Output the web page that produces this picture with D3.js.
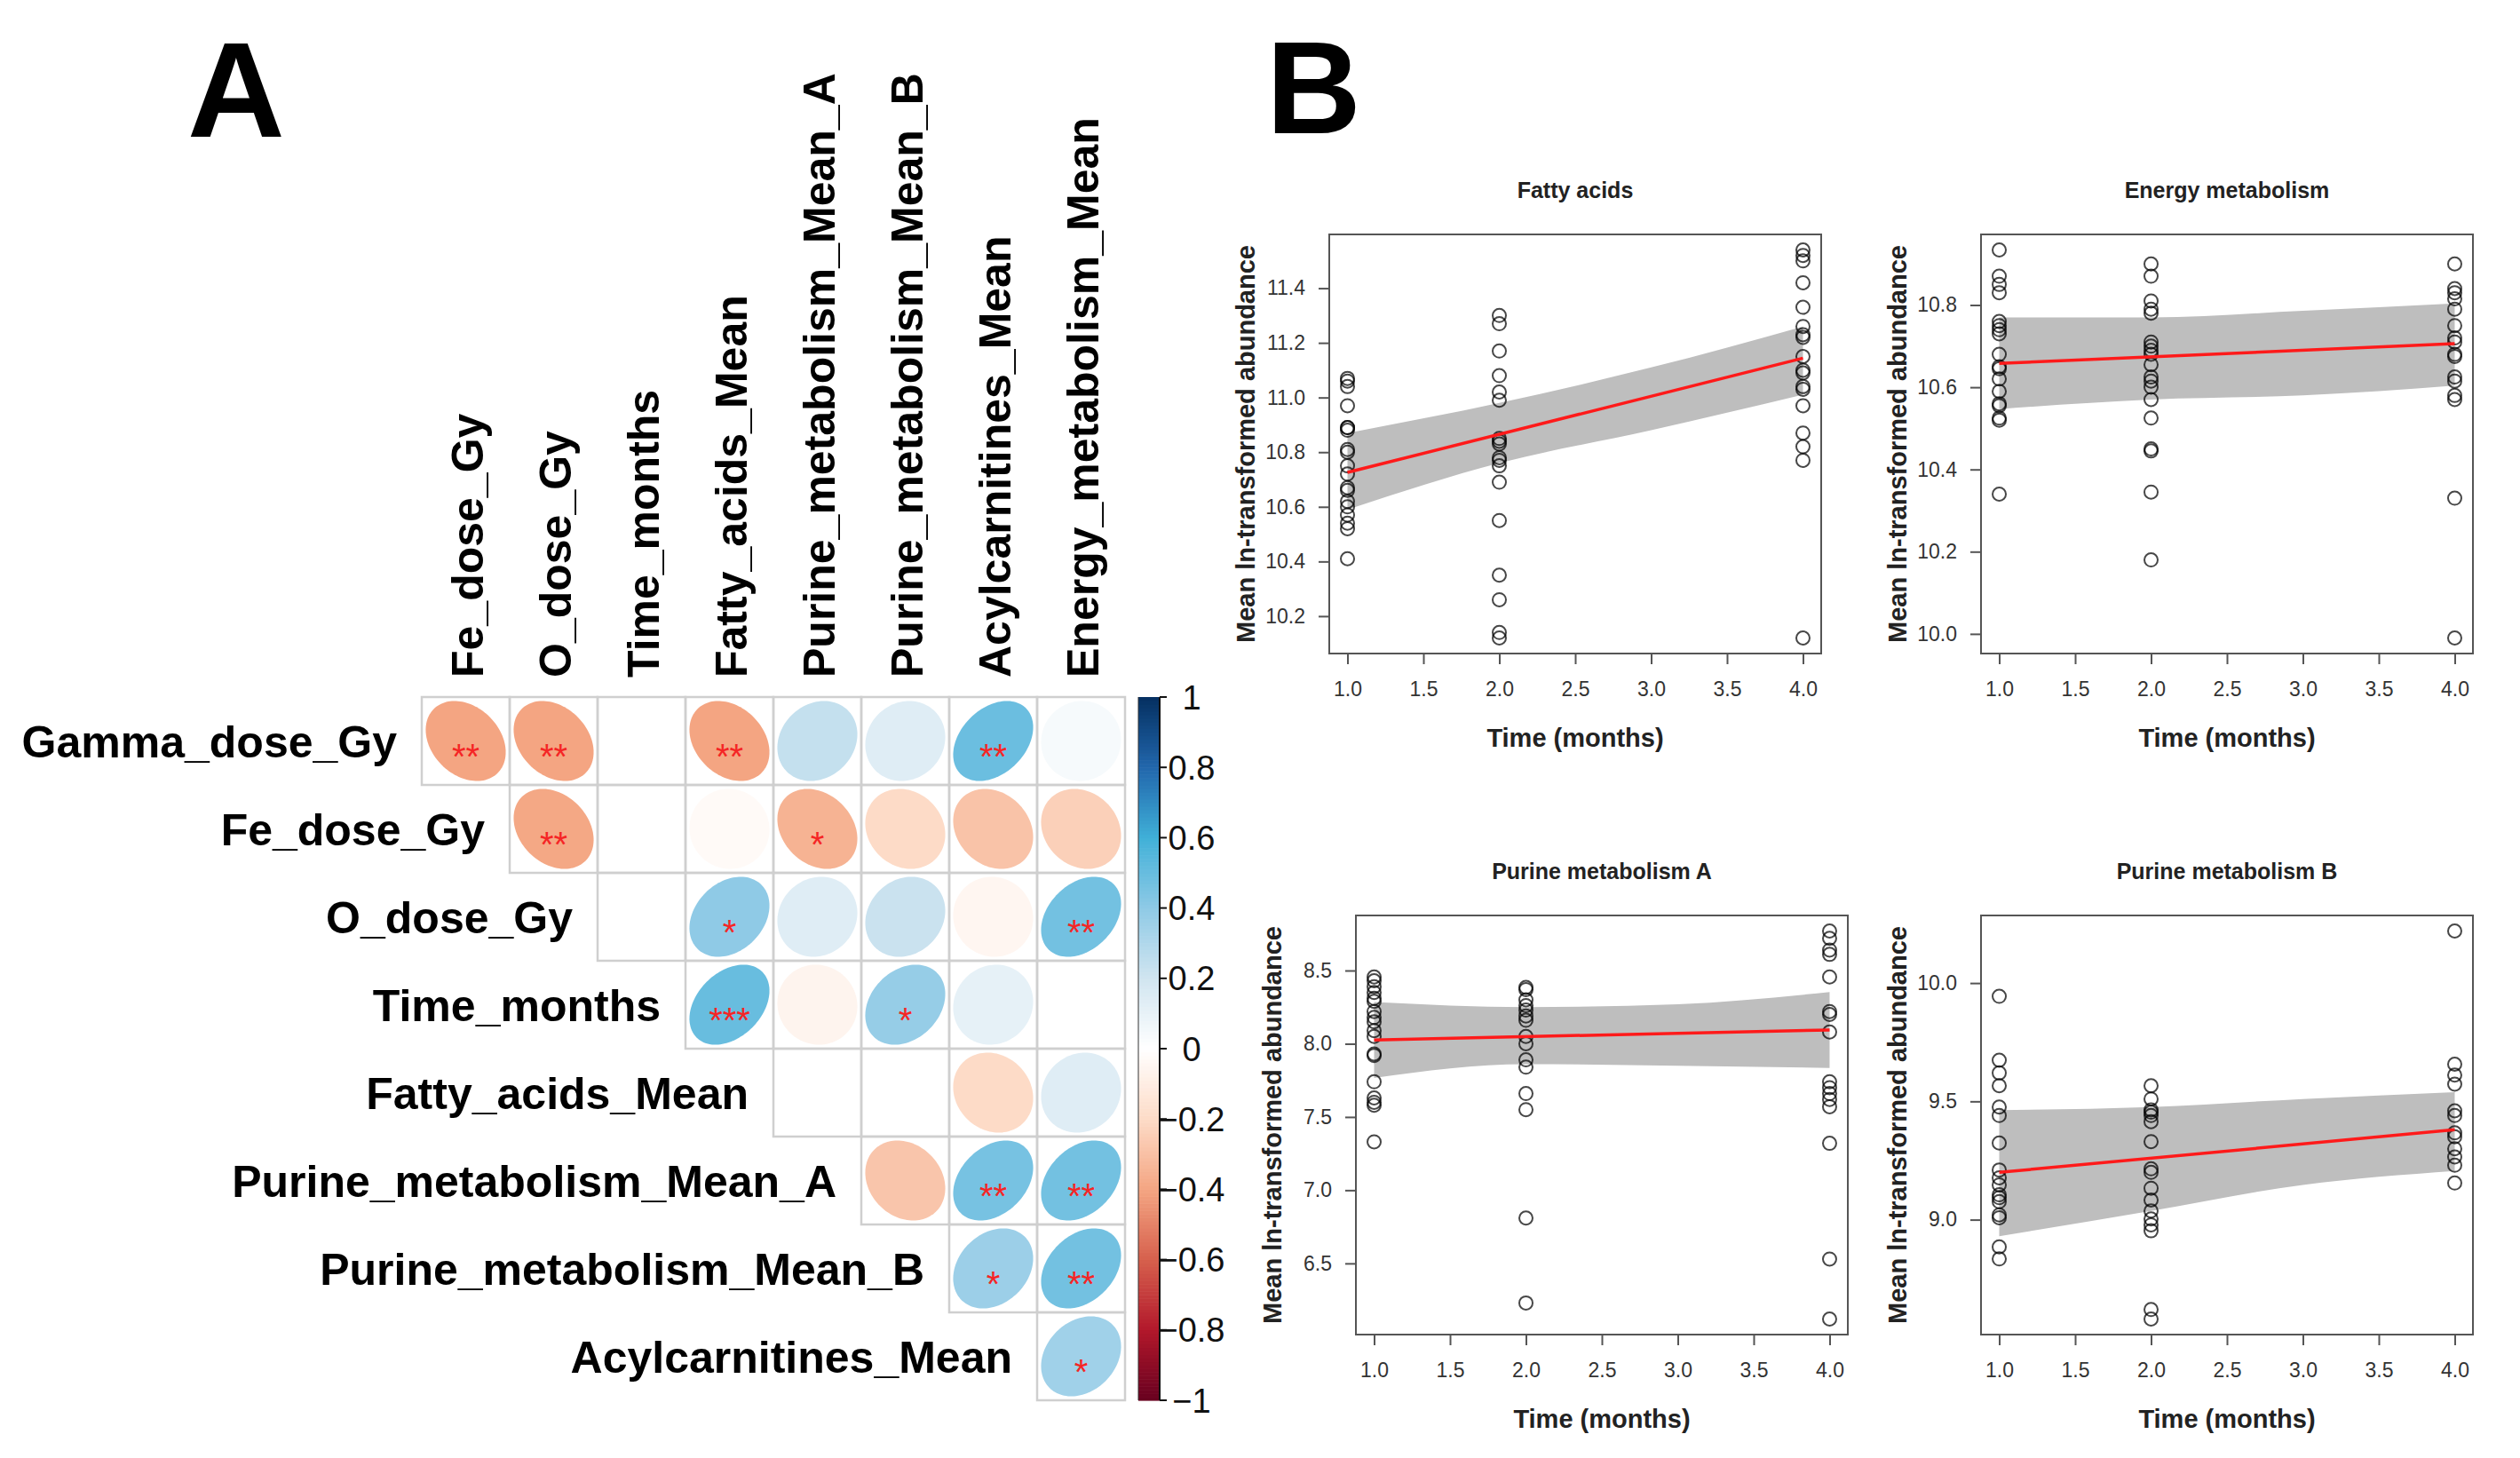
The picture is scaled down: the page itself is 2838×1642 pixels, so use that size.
<!DOCTYPE html>
<html>
<head>
<meta charset="utf-8">
<script src="https://cdn.jsdelivr.net/npm/d3@7"></script>
<style>
  body { margin: 0; background: #fff; }
  text { font-family: "Liberation Sans", Arial, sans-serif; }
</style>
</head>
<body>
<svg id="chart" width="2838" height="1642"></svg>
<script>
// ---- panel A: correlation matrix ----
const rowVars = ["Gamma_dose_Gy", "Fe_dose_Gy", "O_dose_Gy", "Time_months", "Fatty_acids_Mean",
    "Purine_metabolism_Mean_A", "Purine_metabolism_Mean_B", "Acylcarnitines_Mean"];
const colVars = ["Fe_dose_Gy", "O_dose_Gy", "Time_months", "Fatty_acids_Mean", "Purine_metabolism_Mean_A",
    "Purine_metabolism_Mean_B", "Acylcarnitines_Mean", "Energy_metabolism_Mean"];

// upper triangle, row i holds columns i..7
const corrValues = [
    [-0.40, -0.40, 0, -0.40, 0.24, 0.14, 0.49, 0.04],
    [-0.39, 0, -0.03, -0.35, -0.20, -0.29, -0.24],
    [0, 0.40, 0.14, 0.22, -0.05, 0.47],
    [0.50, -0.06, 0.38, 0.11, 0],
    [0, 0, -0.20, 0.14],
    [-0.28, 0.46, 0.47],
    [0.36, 0.47],
    [0.35]
];
const corrStars = [
    ["**", "**", "", "**", "", "", "**", ""],
    ["**", "", "", "*", "", "", ""],
    ["", "*", "", "", "", "**"],
    ["***", "", "*", "", ""],
    ["", "", "", ""],
    ["", "**", "**"],
    ["*", "**"],
    ["*"]
];
const legendTicks = [-1, -0.8, -0.6, -0.4, -0.2, 0, 0.2, 0.4, 0.6, 0.8, 1];
const paletteStops = ["#67001F", "#B2182B", "#D6604D", "#F4A582", "#FDDBC7", "#FFFFFF",
    "#D1E5F0", "#8FCAE6", "#40B0D8", "#2166AC", "#053061"];

// ---- panel B: scatter data (Time in months: 1, 2, 4) ----
const timeMonths = [1, 2, 4];
const xTicks = [1, 1.5, 2, 2.5, 3, 3.5, 4];
const bandX = [1, 2, 3, 4];

const fattyT1 = [11.07, 11.06, 11.04, 10.97, 10.89, 10.89, 10.88, 10.81, 10.80, 10.75, 10.72, 10.67, 10.66, 10.62, 10.60, 10.57, 10.54, 10.52, 10.41];
const fattyT2 = [11.30, 11.27, 11.17, 11.08, 11.02, 10.99, 10.85, 10.84, 10.83, 10.78, 10.77, 10.75, 10.69, 10.55, 10.35, 10.26, 10.14, 10.12];
const fattyT4 = [11.54, 11.52, 11.50, 11.42, 11.33, 11.26, 11.23, 11.22, 11.15, 11.10, 11.09, 11.04, 11.03, 10.97, 10.87, 10.82, 10.77, 10.12];
const fattyFit = [10.726, 11.144];
const fattyHi = [10.87, 10.98, 11.11, 11.26];
const fattyLo = [10.59, 10.76, 10.88, 11.01];
const fattyTicks = [10.2, 10.4, 10.6, 10.8, 11.0, 11.2, 11.4];

const energyT1 = [10.934, 10.87, 10.85, 10.83, 10.76, 10.75, 10.74, 10.73, 10.68, 10.65, 10.645, 10.62, 10.59, 10.56, 10.555, 10.525, 10.52, 10.34];
const energyT2 = [10.90, 10.87, 10.81, 10.79, 10.78, 10.71, 10.70, 10.69, 10.68, 10.655, 10.625, 10.615, 10.60, 10.57, 10.525, 10.45, 10.445, 10.345, 10.18];
const energyT4 = [10.90, 10.84, 10.83, 10.815, 10.79, 10.75, 10.72, 10.71, 10.68, 10.675, 10.625, 10.615, 10.58, 10.57, 10.33, 9.99];
const energyFit = [10.658, 10.706];
const energyHi = [10.77, 10.77, 10.786, 10.804];
const energyLo = [10.547, 10.57, 10.58, 10.604];
const energyTicks = [10.0, 10.2, 10.4, 10.6, 10.8];

const purineAT1 = [8.456, 8.43, 8.39, 8.35, 8.31, 8.29, 8.22, 8.18, 8.15, 8.09, 8.05, 7.93, 7.92, 7.74, 7.63, 7.60, 7.58, 7.33];
const purineAT2 = [8.385, 8.37, 8.30, 8.26, 8.23, 8.19, 8.16, 8.05, 8.00, 7.89, 7.84, 7.66, 7.55, 6.81, 6.23];
const purineAT4 = [8.77, 8.72, 8.64, 8.61, 8.456, 8.22, 8.20, 8.08, 7.74, 7.70, 7.66, 7.62, 7.57, 7.32, 6.53, 6.12];
const purineAFit = [8.026, 8.094];
const purineAHi = [8.285, 8.25, 8.27, 8.353];
const purineALo = [7.767, 7.86, 7.85, 7.835];
const purineATicks = [6.5, 7.0, 7.5, 8.0, 8.5];

const purineBT1 = [9.944, 9.674, 9.62, 9.566, 9.476, 9.44, 9.324, 9.21, 9.177, 9.147, 9.105, 9.093, 9.076, 9.02, 9.008, 8.885, 8.834];
const purineBT2 = [9.566, 9.51, 9.464, 9.454, 9.44, 9.414, 9.33, 9.215, 9.20, 9.133, 9.083, 9.037, 9.003, 8.978, 8.953, 8.62, 8.58];
const purineBT4 = [10.22, 9.657, 9.611, 9.573, 9.46, 9.44, 9.367, 9.35, 9.30, 9.265, 9.23, 9.155];
const purineBFit = [9.20, 9.38];
const purineBHi = [9.463, 9.476, 9.51, 9.539];
const purineBLo = [8.93, 9.037, 9.147, 9.206];
const purineBTicks = [9.0, 9.5, 10.0];

const svg = d3.select("#chart");
svg.append("rect").attr("width", 2838).attr("height", 1642).attr("fill", "#fff");

// panel letters
svg.append("text").attr("x", 211).attr("y", 154)
    .attr("font-size", 152).attr("font-weight", "bold").text("A");
svg.append("text").attr("x", 1426).attr("y", 150)
    .attr("font-size", 148).attr("font-weight", "bold").text("B");

// ===== correlation plot =====
const cell = 99;
const gridX = 475, gridY = 785;

const x = d3.scaleBand().domain(colVars).range([gridX, gridX + cell * 8]);
const y = d3.scaleBand().domain(rowVars).range([gridY, gridY + cell * 8]);
const color = d3.scaleLinear().domain(legendTicks).range(paletteStops).interpolate(d3.interpolateRgb);

const cells = [];
corrValues.forEach((row, i) => {
    row.forEach((r, k) => {
        cells.push({ row: rowVars[i], col: colVars[i + k], r: r, star: corrStars[i][k] });
    });
});

// corrplot style ellipse (shape flattened a bit to match the figure)
function ellipsePath(r, cx, cy, s) {
    const re = r * 0.7;
    const d = Math.acos(re);
    const pts = d3.range(0, 2 * Math.PI + 0.01, Math.PI / 60).map(t =>
        [cx + s * Math.cos(t + d / 2), cy - s * Math.cos(t - d / 2)]);
    return d3.line()(pts) + "Z";
}

const corr = svg.append("g");
corr.selectAll("path.ell")
    .data(cells)
    .join("path")
    .attr("class", "ell")
    .attr("d", d => ellipsePath(d.r, x(d.col) + cell / 2, y(d.row) + cell / 2, cell * 0.455))
    .attr("fill", d => color(d.r));

corr.selectAll("rect.cell")
    .data(cells)
    .join("rect")
    .attr("class", "cell")
    .attr("x", d => x(d.col))
    .attr("y", d => y(d.row))
    .attr("width", cell)
    .attr("height", cell)
    .attr("fill", "none")
    .attr("stroke", "#cfcfcf")
    .attr("stroke-width", 2.5);

corr.selectAll("text.star")
    .data(cells.filter(d => d.star))
    .join("text")
    .attr("class", "star")
    .attr("x", d => x(d.col) + cell / 2)
    .attr("y", d => y(d.row) + cell / 2 + 31)
    .attr("text-anchor", "middle")
    .attr("font-size", 40)
    .attr("fill", "#f52525")
    .text(d => d.star);

// row labels
corr.selectAll("text.rowlab")
    .data(rowVars)
    .join("text")
    .attr("class", "rowlab")
    .attr("x", (d, i) => x(colVars[i]) - 28)
    .attr("y", d => y(d) + cell / 2 + 18)
    .attr("text-anchor", "end")
    .attr("font-size", 50)
    .attr("font-weight", "bold")
    .text(d => d);

// column labels
corr.selectAll("text.collab")
    .data(colVars)
    .join("text")
    .attr("class", "collab")
    .attr("transform", d => `translate(${x(d) + cell / 2 + 19},${gridY - 22}) rotate(-90)`)
    .attr("font-size", 50)
    .attr("font-weight", "bold")
    .text(d => d);

// colour legend
const legX = 1282, legW = 24;
const legY = d3.scaleLinear().domain([-1, 1]).range([gridY + cell * 8, gridY]);
const legSteps = d3.range(-1, 1, 0.01);
corr.selectAll("rect.leg")
    .data(legSteps)
    .join("rect")
    .attr("class", "leg")
    .attr("x", legX)
    .attr("y", d => legY(d + 0.01))
    .attr("width", legW)
    .attr("height", legY(0) - legY(0.01) + 0.6)
    .attr("fill", d => color(d + 0.005));
corr.append("line")
    .attr("x1", legX + legW).attr("x2", legX + legW)
    .attr("y1", legY(-1)).attr("y2", legY(1))
    .attr("stroke", "#111").attr("stroke-width", 2);
corr.append("line")
    .attr("x1", legX).attr("x2", legX)
    .attr("y1", legY(-1)).attr("y2", legY(1))
    .attr("stroke", "#333").attr("stroke-width", 1);
corr.selectAll("line.legtick")
    .data(legendTicks)
    .join("line")
    .attr("class", "legtick")
    .attr("x1", legX + legW).attr("x2", legX + legW + 8)
    .attr("y1", d => legY(d)).attr("y2", d => legY(d))
    .attr("stroke", "#111").attr("stroke-width", 2);
corr.selectAll("text.legtext")
    .data(legendTicks)
    .join("text")
    .attr("class", "legtext")
    .attr("x", 1342)
    .attr("y", d => legY(d))
    .attr("dy", "0.36em")
    .attr("text-anchor", "middle")
    .attr("font-size", 38)
    .attr("fill", "#111")
    .text(d => d3.format("")(Math.round(d * 10) / 10));

// ===== scatter plots =====
const plots = [
    { title: "Fatty acids", t1: fattyT1, t2: fattyT2, t4: fattyT4, fit: fattyFit, hi: fattyHi, lo: fattyLo, ticks: fattyTicks, left: 1497, top: 264 },
    { title: "Energy metabolism", t1: energyT1, t2: energyT2, t4: energyT4, fit: energyFit, hi: energyHi, lo: energyLo, ticks: energyTicks, left: 2231, top: 264 },
    { title: "Purine metabolism A", t1: purineAT1, t2: purineAT2, t4: purineAT4, fit: purineAFit, hi: purineAHi, lo: purineALo, ticks: purineATicks, left: 1527, top: 1031 },
    { title: "Purine metabolism B", t1: purineBT1, t2: purineBT2, t4: purineBT4, fit: purineBFit, hi: purineBHi, lo: purineBLo, ticks: purineBTicks, left: 2231, top: 1031 }
];
const boxW = 554, boxH = 472;

plots.forEach(p => {
    const pts = [].concat(
        p.t1.map(v => [timeMonths[0], v]),
        p.t2.map(v => [timeMonths[1], v]),
        p.t4.map(v => [timeMonths[2], v]));

    // R style 4% padding of the data range
    const ext = d3.extent(pts, d => d[1]);
    const pad = (ext[1] - ext[0]) * 0.04;
    const sx = d3.scaleLinear().domain([1 - 0.12, 4 + 0.12]).range([p.left, p.left + boxW]);
    const sy = d3.scaleLinear().domain([ext[0] - pad, ext[1] + pad]).range([p.top + boxH, p.top]);

    const g = svg.append("g");

    // confidence band
    const area = d3.area()
        .x((d, i) => sx(bandX[i]))
        .y0((d, i) => sy(p.lo[i]))
        .y1((d, i) => sy(p.hi[i]))
        .curve(d3.curveMonotoneX);
    g.append("path").attr("d", area(bandX)).attr("fill", "#bebebe");

    // points
    g.selectAll("circle")
        .data(pts)
        .join("circle")
        .attr("cx", d => sx(d[0]))
        .attr("cy", d => sy(d[1]))
        .attr("r", 7.5)
        .attr("fill", "none")
        .attr("stroke", "#000")
        .attr("stroke-opacity", 0.72)
        .attr("stroke-width", 2);

    // fitted line
    g.append("line")
        .attr("x1", sx(1)).attr("y1", sy(p.fit[0]))
        .attr("x2", sx(4)).attr("y2", sy(p.fit[1]))
        .attr("stroke", "#ff1a1a").attr("stroke-width", 3.5);

    // frame
    g.append("rect")
        .attr("x", p.left).attr("y", p.top)
        .attr("width", boxW).attr("height", boxH)
        .attr("fill", "none").attr("stroke", "#555").attr("stroke-width", 2);

    // axes
    const xAxis = g.append("g")
        .attr("transform", `translate(0,${p.top + boxH})`)
        .call(d3.axisBottom(sx).tickValues(xTicks).tickFormat(d3.format(".1f")).tickSize(12).tickPadding(20));
    const yAxis = g.append("g")
        .attr("transform", `translate(${p.left},0)`)
        .call(d3.axisLeft(sy).tickValues(p.ticks).tickFormat(d3.format(".1f")).tickSize(12).tickPadding(15));
    [xAxis, yAxis].forEach(a => {
        a.select(".domain").remove();
        a.selectAll("line").attr("stroke", "#555").attr("stroke-width", 2);
        a.selectAll("text")
            .attr("font-size", 23)
            .attr("fill", "#333")
            .attr("font-family", "'Liberation Sans', Arial, sans-serif");
    });

    // titles and labels
    g.append("text")
        .attr("x", p.left + boxW / 2).attr("y", p.top - 41)
        .attr("text-anchor", "middle")
        .attr("font-size", 25).attr("font-weight", "bold").attr("fill", "#222")
        .text(p.title);
    g.append("text")
        .attr("x", p.left + boxW / 2).attr("y", p.top + boxH + 105)
        .attr("text-anchor", "middle")
        .attr("font-size", 29).attr("font-weight", "bold").attr("fill", "#222")
        .text("Time (months)");
    g.append("text")
        .attr("transform", `translate(${p.left - 84},${p.top + boxH / 2}) rotate(-90)`)
        .attr("text-anchor", "middle")
        .attr("font-size", 29).attr("font-weight", "bold").attr("fill", "#222")
        .text("Mean ln-transformed abundance");
});
</script>
</body>
</html>
